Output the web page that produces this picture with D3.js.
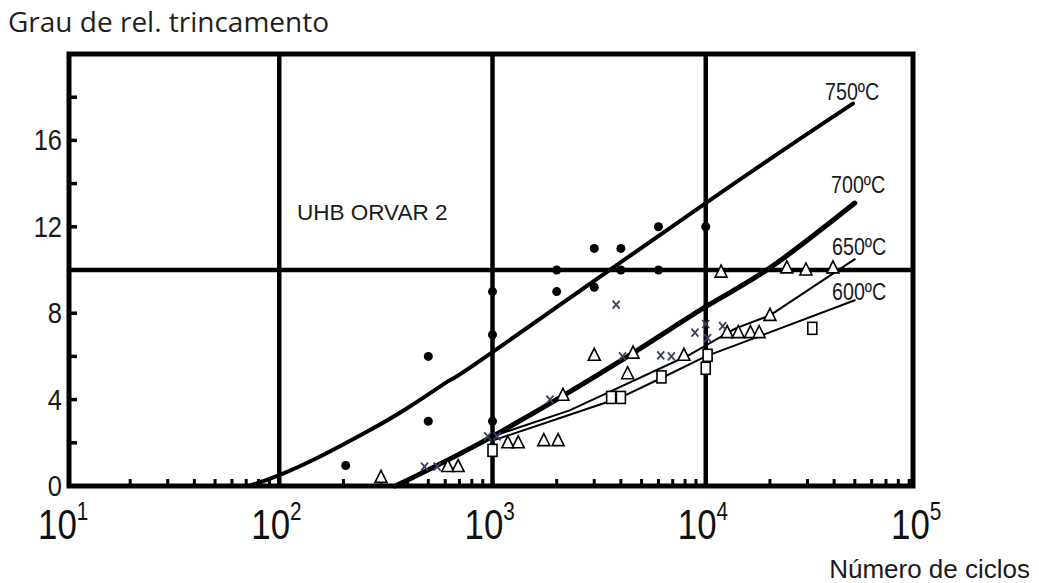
<!DOCTYPE html>
<html><head><meta charset="utf-8">
<script src="https://cdn.jsdelivr.net/npm/d3@7"></script>
<style>body{margin:0;background:#fff}svg{display:block}</style>
</head><body><svg id="c" width="1039" height="583"></svg>
<script>
const xTickValues = [10, 100, 1000, 10000, 100000];
const xTickExp = ["1", "2", "3", "4", "5"];
const yTickValues = [0, 4, 8, 12, 16];
const yMinorTicks = [2, 6, 14, 18];
const gridX = [100, 1000, 10000];
const gridY = [10];

const curve750 = [[72, 0], [100, 0.5], [158, 1.4], [251, 2.45], [398, 3.6], [631, 4.9], [1000, 6.2], [10000, 13.1], [49000, 17.7]];
const curve700 = [[350, 0], [1000, 2.3], [4000, 5.8], [10000, 8.3], [20000, 10.1], [50000, 13.1]];
const curve650 = [[1000, 2.3], [2300, 3.5], [8500, 6.1], [13800, 7.3], [20000, 7.9], [50000, 10.5]];
const curve600 = [[1000, 2.1], [2300, 3.3], [4000, 4.1], [6200, 5.0], [10000, 6.0], [50000, 8.6]];
const curveLabels = ["750ºC", "700ºC", "650ºC", "600ºC"];

const dots = [[205, 0.95], [500, 6], [500, 3], [1000, 9], [1000, 7], [1000, 3], [2000, 10], [2000, 9],
  [3000, 11], [3000, 9.2], [4000, 11], [4000, 10], [6000, 12], [6000, 10], [10000, 12]];
const crosses = [[480, 0.9], [550, 0.9], [950, 2.3], [1050, 2.3], [1860, 4.0], [3800, 8.4], [4070, 6.0],
  [6150, 6.05], [6900, 6.0], [8900, 7.1], [10000, 7.5], [10200, 6.85], [12000, 7.4]];
const triangles = [[300, 0.4], [617, 0.9], [690, 0.9], [1180, 2.0], [1320, 2.0], [1740, 2.1], [2030, 2.1],
  [2140, 4.2], [3000, 6.05], [4300, 5.2], [4560, 6.15], [7900, 6.05], [12600, 7.1], [14200, 7.1],
  [16200, 7.1], [17800, 7.1], [20000, 7.9], [11800, 9.9], [24000, 10.1], [29500, 10], [39500, 10.1]];
const squares = [[1000, 1.65], [3600, 4.1], [4000, 4.1], [6200, 5.05], [10200, 6.05], [10000, 5.45], [31600, 7.3]];

const svg = d3.select("#c");
const L = 69, R = 913, T = 54, B = 486;
const x = d3.scaleLog().domain([10, 100000]).range([66, 919]);
const y = d3.scaleLinear().domain([0, 20]).range([B, T]);
const ink = "#000";
const font = "Liberation Sans, Arial, sans-serif";

// grid lines
svg.selectAll(".gx").data(gridX).join("line")
  .attr("x1", d => x(d)).attr("x2", d => x(d)).attr("y1", T).attr("y2", B)
  .attr("stroke", ink).attr("stroke-width", 4.5);
svg.selectAll(".gy").data(gridY).join("line")
  .attr("x1", L).attr("x2", R).attr("y1", d => y(d)).attr("y2", d => y(d))
  .attr("stroke", ink).attr("stroke-width", 4.5);

// minor x ticks (inside, pointing up)
const minorX = [];
for (let e = 1; e < 5; e++) for (let k = 2; k <= 9; k++) minorX.push(k * Math.pow(10, e));
svg.selectAll(".mx").data(minorX).join("line")
  .attr("x1", d => x(d)).attr("x2", d => x(d)).attr("y1", B).attr("y2", B - 7)
  .attr("stroke", ink).attr("stroke-width", 3);
svg.selectAll(".my").data(yTickValues.concat(yMinorTicks).filter(d => d > 0)).join("line")
  .attr("x1", L).attr("x2", L + 8).attr("y1", d => y(d)).attr("y2", d => y(d))
  .attr("stroke", ink).attr("stroke-width", 3.5);

// frame
svg.append("rect").attr("x", L).attr("y", T).attr("width", R - L).attr("height", B - T)
  .attr("fill", "none").attr("stroke", ink).attr("stroke-width", 5);

// curves
const smooth = d3.line().x(d => x(d[0])).y(d => y(d[1])).curve(d3.curveNatural);
const straight = d3.line().x(d => x(d[0])).y(d => y(d[1]));
[[curve750, 4, smooth], [curve700, 5, smooth], [curve650, 2, straight], [curve600, 2, straight]].forEach(([c, w, g]) => {
  svg.append("path").attr("d", g(c)).attr("fill", "none").attr("stroke", ink)
    .attr("stroke-width", w).attr("stroke-linecap", "round").attr("stroke-linejoin", "round");
});

// markers
svg.selectAll(".dot").data(dots).join("circle")
  .attr("cx", d => x(d[0])).attr("cy", d => y(d[1])).attr("r", 4.5).attr("fill", ink);
svg.selectAll(".tri").data(triangles).join("path")
  .attr("d", "M0,-7L6,5L-6,5Z")
  .attr("transform", d => `translate(${x(d[0])},${y(d[1])})`)
  .attr("fill", "#fff").attr("stroke", ink).attr("stroke-width", 1.6);
svg.selectAll(".sq").data(squares).join("rect")
  .attr("x", d => x(d[0]) - 4.5).attr("y", d => y(d[1]) - 6).attr("width", 9).attr("height", 12)
  .attr("fill", "#fff").attr("stroke", ink).attr("stroke-width", 1.6);
svg.selectAll(".cr").data(crosses).join("path")
  .attr("d", "M-3.5,-4L3.5,4M3.5,-4L-3.5,4")
  .attr("transform", d => `translate(${x(d[0])},${y(d[1])})`)
  .attr("fill", "none").attr("stroke", "#3a4060").attr("stroke-width", 1.8);

// texts
svg.append("text").attr("x", 8).attr("y", 32).attr("font-family", "Open Sans, sans-serif")
  .attr("font-size", 28).attr("fill", "#1e1e1e").text("Grau de rel. trincamento");
svg.selectAll(".yl").data(yTickValues).join("text")
  .attr("transform", d => `translate(62,${y(d) + 10}) scale(0.85,1)`).attr("text-anchor", "end")
  .attr("font-family", font).attr("font-size", 30).attr("fill", "#1a1a1a").text(d => d);
const xl = svg.selectAll(".xl").data(xTickValues).join("text")
  .attr("transform", d => `translate(${x(d) - 28},539) scale(0.83,1)`)
  .attr("font-family", font).attr("font-size", 42).attr("fill", "#111");
xl.append("tspan").text("10");
xl.append("tspan").attr("dy", -19).attr("font-size", 25).text((d, i) => xTickExp[i]);
svg.append("text").attr("x", 1030).attr("y", 578).attr("text-anchor", "end")
  .attr("font-family", font).attr("font-size", 26).attr("fill", "#1a1a1a").text("Número de ciclos");
svg.append("text").attr("x", 297).attr("y", 220).attr("font-family", font)
  .attr("font-size", 22.5).attr("fill", "#1a1a1a").text("UHB ORVAR 2");
const labelPos = [[825, 100], [831, 193], [832, 255], [832, 300]];
svg.selectAll(".cl").data(curveLabels).join("text")
  .attr("transform", (d, i) => `translate(${labelPos[i][0]},${labelPos[i][1]}) scale(0.82,1)`)
  .attr("font-family", font).attr("font-size", 24).attr("fill", "#1a1a1a").text(d => d);
</script></body></html>
